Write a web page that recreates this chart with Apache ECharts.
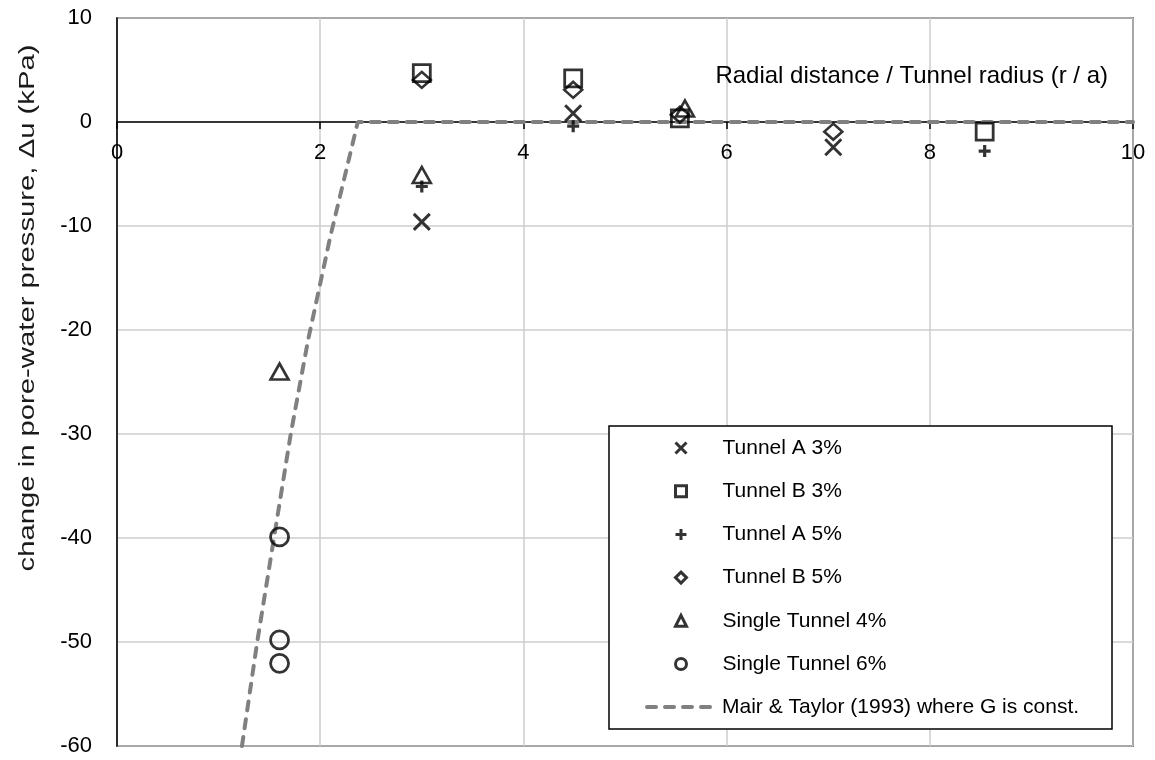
<!DOCTYPE html>
<html>
<head>
<meta charset="utf-8">
<style>
  html, body { margin: 0; padding: 0; background: #fff; }
  #chart { width: 1155px; height: 760px; }
</style>
<script src="https://cdn.jsdelivr.net/npm/echarts@6/dist/echarts.min.js"></script>
</head>
<body>
<div id="chart"></div>
<script>
// ---- data ----
const xTicks = [0, 2, 4, 6, 8, 10];
const yTicks = [-60, -50, -40, -30, -20, -10, 0, 10];

const seriesNames = [
  'Tunnel A 3%', 'Tunnel B 3%', 'Tunnel A 5%', 'Tunnel B 5%',
  'Single Tunnel 4%', 'Single Tunnel 6%', 'Mair & Taylor (1993) where G is const.'
];
const xTitle = 'Radial distance / Tunnel radius (r / a)';
const yTitle = 'change in pore-water pressure, \u0394u (kPa)';

const tunnelA3 = [[3.0, -9.6], [4.49, 0.84], [7.05, -2.43]];
const tunnelB3 = [[3.0, 4.7], [4.49, 4.2], [5.54, 0.35], [8.54, -0.93]];
const tunnelA5 = [[3.0, -6.2], [4.49, -0.4], [8.54, -2.8]];
const tunnelB5 = [[3.0, 4.05], [4.49, 3.1], [5.54, 0.7], [7.05, -0.93]];
const single4 = [[1.6, -24.0], [3.0, -5.1], [5.59, 1.3]];
const single6 = [[1.6, -39.9], [1.6, -49.8], [1.6, -52.05]];
const mairTaylor = [[1.23, -60], [1.38, -50], [1.545, -40], [1.71, -30], [1.88, -21], [2.1, -11], [2.37, 0], [10, 0]];

const FONT = 'Liberation Sans, Arial, sans-serif';
const CROSS = 'path://M0,0L10,10M10,0L0,10';
const PLUS = 'path://M5,0L5,10M0,5L10,5';

// plot box in pixels
const G = { left: 117, right: 22, top: 18, bottom: 14 };
const H = 760, W = 1155;
const plotH = H - G.top - G.bottom;
const yZeroFromBottom = plotH * (0 - yTicks[0]) / (yTicks[yTicks.length - 1] - yTicks[0]);

function scatter(name, data, symbol, size, bw) {
  return {
    name, type: 'scatter', data, symbol, symbolSize: size,
    silent: true, z: 3,
    itemStyle: { color: 'rgba(0,0,0,0)', borderColor: '#000', borderWidth: bw }
  };
}

const chart = echarts.init(document.getElementById('chart'), null, { renderer: 'canvas' });
const option = {
  animation: false,
  backgroundColor: '#fff',
  textStyle: { fontFamily: FONT },
  grid: { left: G.left, right: G.right, top: G.top, bottom: G.bottom, show: true,
          borderColor: '#000', borderWidth: 1.5, containLabel: false, outerBoundsMode: 'none' },
  xAxis: {
    type: 'value', min: xTicks[0], max: xTicks[xTicks.length - 1], interval: xTicks[1] - xTicks[0],
    position: 'bottom', offset: -yZeroFromBottom,
    axisLine: { show: true, onZero: false, lineStyle: { color: '#000', width: 1.5 } },
    axisTick: { show: true, length: 7, lineStyle: { color: '#000', width: 1.5 } },
    axisLabel: { fontSize: 22, color: '#000', margin: 20, fontFamily: FONT },
    splitLine: { show: true, lineStyle: { color: '#cccccc', width: 1.5 } }
  },
  yAxis: {
    type: 'value', min: yTicks[0], max: yTicks[yTicks.length - 1], interval: yTicks[1] - yTicks[0],
    axisLine: { show: true, onZero: false, lineStyle: { color: '#000', width: 1.5 } },
    axisTick: { show: false },
    axisLabel: { fontSize: 22, color: '#000', margin: 25, fontFamily: FONT },
    splitLine: { show: true, lineStyle: { color: '#cccccc', width: 1.5 } }
  },
  graphic: [{
    type: 'text', z: 10,
    style: { text: xTitle, x: 1108, y: 76, align: 'right', verticalAlign: 'middle',
             fontSize: 24, fontFamily: FONT, fill: '#000' }
  }, {
    type: 'text', z: 10, x: 28, y: 308, rotation: Math.PI / 2, scaleX: 1.33,
    style: { text: yTitle, x: 0, y: 0, align: 'center', verticalAlign: 'middle',
             fontSize: 22, fontFamily: FONT, fill: '#1a1a1a' }
  }, {
    type: 'rect', z: 3.5, silent: true,
    shape: { x: 609, y: 426, width: 503, height: 303 },
    style: { fill: '#fff', stroke: '#000', lineWidth: 1.5 }
  }],
  legend: [{
    data: seriesNames.slice(0, 6), orient: 'vertical', left: 609, top: 426,
    padding: [11.5, 0, 0, 65], itemWidth: 11, itemHeight: 11, itemGap: 22.2,
    selectedMode: false, z: 5,
    itemStyle: { borderWidth: 3 },
    textStyle: { fontSize: 21, color: '#000', lineHeight: 21, fontFamily: FONT, padding: [0, 0, 0, 31] }
  }, {
    data: seriesNames.slice(6), orient: 'vertical', left: 645, top: 707 - 10.5,
    padding: 0, itemWidth: 70, itemHeight: 11,
    selectedMode: false, z: 6,
    itemStyle: { color: 'rgba(0,0,0,0)', borderWidth: 0, opacity: 0 },
    lineStyle: { color: '#808080', width: 4, type: [9, 9], cap: 'round' },
    textStyle: { fontSize: 21, color: '#000', lineHeight: 21, fontFamily: FONT }
  }],
  series: [
    scatter(seriesNames[0], tunnelA3, CROSS, 16, 3),
    scatter(seriesNames[1], tunnelB3, 'rect', 17, 2.8),
    scatter(seriesNames[2], tunnelA5, PLUS, 12, 3.2),
    scatter(seriesNames[3], tunnelB5, 'diamond', [18, 16], 2.6),
    scatter(seriesNames[4], single4, 'triangle', [18, 16], 2.6),
    scatter(seriesNames[5], single6, 'circle', 18, 2.8),
    {
      name: seriesNames[6], type: 'line', data: mairTaylor, symbol: 'none', silent: true, z: 2,
      itemStyle: { color: '#808080' },
      lineStyle: { color: '#808080', width: 4, type: [9, 9], cap: 'round' }
    }
  ]
};
chart.setOption(option);
</script>
</body>
</html>
